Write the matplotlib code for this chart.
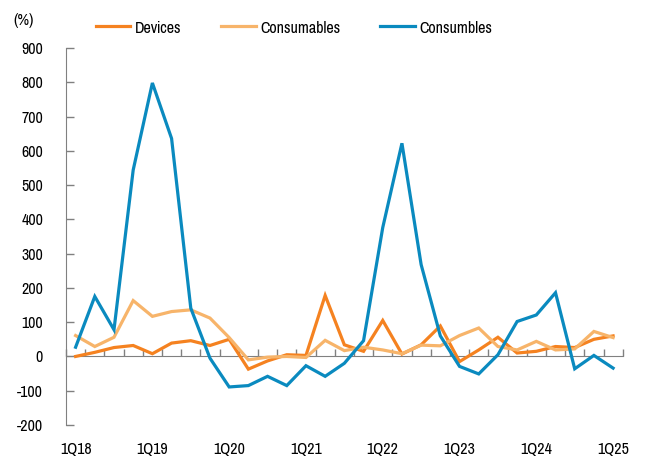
import matplotlib
matplotlib.use("Agg")
import matplotlib.pyplot as plt
from matplotlib import font_manager
import numpy as np

quarters = [f"{q}Q{y}" for y in range(18, 26) for q in range(1, 5)][:29]
tick_labels = ["1Q18", "1Q19", "1Q20", "1Q21", "1Q22", "1Q23", "1Q24", "1Q25"]

devices = [0, 12, 26, 32, 8, 39, 46, 32, 50, -37, -13, 5, 3, 178,
           34, 15, 105, 7, 34, 89, -15, 19, 56, 10, 15, 29, 26, 50, 60]
consumables = [61, 29, 56, 163, 117, 131, 136, 112, 55, -10, -2, 0, -3, 47,
               17, 27, 19, 8, 33, 31, 61, 83, 29, 19, 44, 19, 22, 73, 55]
consumbles = [27, 175, 78, 544, 798, 636, 141, -5, -89, -85, -58, -85, -27, -58,
              -20, 46, 376, 622, 268, 60, -29, -51, 5, 102, 121, 186, -36, 3, -34]

names = ["Devices", "Consumables", "Consumbles"]
colors = ["#F58220", "#F7B46A", "#0A8ABF"]

avail = {f.name for f in font_manager.fontManager.ttflist}
fam = "Pragati Narrow" if "Pragati Narrow" in avail else "Liberation Sans"
plt.rcParams["font.family"] = [fam, "DejaVu Sans"]
plt.rcParams["axes.unicode_minus"] = False
fs = 12.5

fig = plt.figure(figsize=(6.46, 4.61), dpi=100)
ax = fig.add_axes([66/646, 1-425/461, (622.7-66)/646, (425-48)/461])

x = np.arange(len(quarters))
for vals, name, c in zip([devices, consumables, consumbles], names, colors):
    ax.plot(x, vals, color=c, lw=2.3, label=name, solid_joinstyle="miter")

ax.set_xlim(-0.5, len(quarters) - 0.5)
ax.set_ylim(-200, 900)
ax.set_yticks(np.arange(-200, 901, 100))
ax.tick_params(axis="y", direction="in", length=6, width=1, color="#808080",
               labelsize=fs, pad=16.5)

for s in ["top", "right"]:
    ax.spines[s].set_visible(False)
ax.spines["left"].set_color("#808080")
ax.spines["bottom"].set_color("#808080")
ax.spines["bottom"].set_position(("data", 0))
ax.spines["bottom"].set_zorder(0)
ax.set_xticks(np.arange(-0.5, len(quarters) + 0.5, 1))
ax.tick_params(axis="x", direction="in", length=5, width=1, color="#808080",
               labelbottom=False)

sec = ax.secondary_xaxis(0.0)
sec.set_xticks([quarters.index(t) for t in tick_labels])
sec.set_xticklabels(tick_labels)
sec.tick_params(axis="x", length=0, labelsize=fs, pad=12.5)
sec.spines["bottom"].set_visible(False)

fig.text(13/646, 1-20/461, "(%)", fontsize=fs, va="center", ha="left")

fig.legend(loc="center", bbox_to_anchor=(0.455, 1-28/461), ncol=3, frameon=False,
           fontsize=fs, handlelength=2.0, handletextpad=0.25, columnspacing=2.3)

fig.savefig("out.png", dpi=100)
